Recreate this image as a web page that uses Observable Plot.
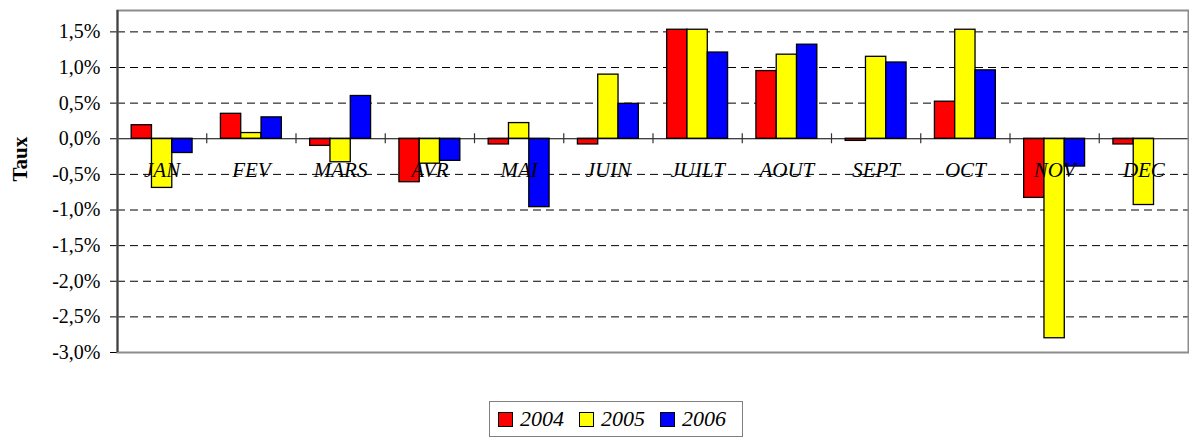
<!DOCTYPE html>
<html>
<head>
<meta charset="utf-8">
<script src="https://cdn.jsdelivr.net/npm/d3@7"></script>
<script src="https://cdn.jsdelivr.net/npm/@observablehq/plot@0.6"></script>
<style>
  body { margin: 0; background: #fff; font-family: "Liberation Serif", "Times New Roman", serif; }
  #wrap { position: relative; width: 1189px; height: 439px; overflow: hidden; }
  #chart svg, #chart svg text { font-family: "Liberation Serif", "Times New Roman", serif !important; }
  #chart svg g[aria-label="y-axis tick label"] text { font-size: 20px; }
  #legend { position: absolute; left: 489px; top: 401px; width: 254px; height: 36px;
    border: 1px solid #808080; box-sizing: border-box; display: flex; align-items: center;
    padding-left: 8px; font-style: italic; font-size: 22px; color: #000; }
  #legend .item { display: flex; align-items: center; margin-right: 15px; }
  #legend .sw { width: 13px; height: 13px; border: 1px solid #000; margin-right: 7px; }
</style>
</head>
<body>
<div id="wrap"><div id="chart"></div><div id="legend"></div></div>
<script>
const months = ["JAN", "FEV", "MARS", "AVR", "MAI", "JUIN", "JUILT", "AOUT", "SEPT", "OCT", "NOV", "DEC"];
const years = ["2004", "2005", "2006"];
const values2004 = [0.19, 0.35, -0.10, -0.61, -0.08, -0.08, 1.53, 0.95, -0.03, 0.52, -0.83, -0.08];
const values2005 = [-0.69, 0.08, -0.33, -0.35, 0.22, 0.90, 1.53, 1.18, 1.15, 1.53, -2.80, -0.93];
const values2006 = [-0.20, 0.30, 0.60, -0.31, -0.96, 0.49, 1.21, 1.32, 1.07, 0.96, -0.39, null];
const yTicks = [1.5, 1.0, 0.5, 0.0, -0.5, -1.0, -1.5, -2.0, -2.5, -3.0];
const colors = ["#FF0000", "#FFFF00", "#0000FF"];

const series = [values2004, values2005, values2006];
const rows = [];
months.forEach((m, i) => {
  years.forEach((y, k) => {
    const v = series[k][i];
    if (v != null) rows.push({month: m, year: y, value: v, i, k});
  });
});

const barW = 0.2275;                 // bar width as a fraction of a category
const groupStart = (1 - 3 * barW) / 2;
const fmt = d => (Math.abs(d) < 1e-9 ? 0 : d).toFixed(1).replace(".", ",") + "%";

const chart = Plot.plot({
  width: 1189,
  height: 372,
  marginLeft: 117,
  marginRight: 1,
  marginTop: 10,
  marginBottom: 20,
  style: {fontFamily: "'Liberation Serif', 'Times New Roman', serif", fontSize: "20px", color: "#000", background: "#fff"},
  x: {type: "linear", domain: [0, months.length], axis: null},
  y: {domain: [-3.0, 1.8], ticks: yTicks, tickFormat: fmt, tickSize: 7, tickPadding: 10, label: null},
  color: {domain: years, range: colors},
  marks: [
    Plot.ruleY(yTicks.filter(t => t !== 0 && t !== -3.0), {stroke: "#000", strokeDasharray: "8,5", strokeWidth: 1}),
    Plot.rectY(rows, {
      x1: d => d.i + groupStart + d.k * barW,
      x2: d => d.i + groupStart + (d.k + 1) * barW,
      y1: () => 0,
      y2: "value",
      fill: "year",
      stroke: "#000",
      strokeWidth: 1.3
    }),
    Plot.ruleY([0], {stroke: "#000", strokeWidth: 1.2}),
    Plot.ruleX(d3.range(0, months.length), {y1: () => 0, y2: () => 0, insetTop: -5, insetBottom: -5, stroke: "#333", strokeWidth: 1.2}),
    Plot.text(months, {x: (d, i) => i + 0.5, y: () => 0, text: d => d, dy: 32, fontStyle: "italic", fontSize: 21, fill: "#000"}),
    Plot.frame({stroke: "#8c8c8c", strokeWidth: 2}),
    Plot.ruleX([0], {stroke: "#404040", strokeWidth: 2}),
    Plot.text(["Taux"], {frameAnchor: "left", dx: -97, rotate: -90, text: d => d, fontWeight: "bold", fontSize: 21, fill: "#000"})
  ]
});
document.getElementById("chart").appendChild(chart);

const legend = document.getElementById("legend");
years.forEach((y, k) => {
  const item = document.createElement("div");
  item.className = "item";
  const sw = document.createElement("div");
  sw.className = "sw";
  sw.style.background = colors[k];
  const label = document.createElement("span");
  label.textContent = y;
  item.appendChild(sw);
  item.appendChild(label);
  legend.appendChild(item);
});
</script>
</body>
</html>
